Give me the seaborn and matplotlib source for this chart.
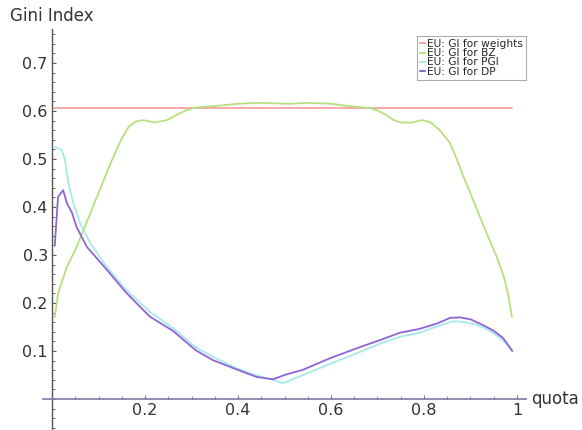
import matplotlib
matplotlib.use("Agg")
import matplotlib.pyplot as plt
from matplotlib.ticker import MultipleLocator, FixedLocator, FixedFormatter
import numpy as np
import pandas as pd
import seaborn as sns

# Gini index of the EU weights and of the power indices, as a function of the quota
weights_x = [0.005, 0.99]
weights_y = [0.607, 0.607]

bz_x = [0.006, 0.013, 0.032, 0.053, 0.082, 0.105, 0.12, 0.13, 0.15, 0.165, 0.18,
        0.196, 0.221, 0.247, 0.268, 0.29, 0.308, 0.333, 0.368, 0.40, 0.44, 0.48,
        0.51, 0.55, 0.60, 0.65, 0.684, 0.70, 0.72, 0.735, 0.75, 0.775, 0.795, 0.813,
        0.834, 0.856, 0.870, 0.885, 0.903, 0.920, 0.938, 0.956, 0.971, 0.981, 0.989]
bz_y = [0.171, 0.22, 0.275, 0.317, 0.386, 0.441, 0.477, 0.50, 0.543, 0.567, 0.578,
        0.581, 0.576, 0.581, 0.592, 0.602, 0.607, 0.609, 0.612, 0.615, 0.617, 0.616,
        0.615, 0.617, 0.615, 0.609, 0.606, 0.601, 0.591, 0.581, 0.576, 0.576, 0.581, 0.577,
        0.56, 0.533, 0.501, 0.463, 0.421, 0.380, 0.338, 0.297, 0.257, 0.218, 0.171]

pgi_x = [0.006, 0.021, 0.028, 0.035, 0.046, 0.06, 0.082, 0.118, 0.16, 0.21, 0.26,
         0.31, 0.35, 0.40, 0.44, 0.475, 0.497, 0.52, 0.54, 0.60, 0.66, 0.71, 0.75,
         0.79, 0.83, 0.862, 0.88, 0.91, 0.93, 0.95, 0.97, 0.99]
pgi_y = [0.525, 0.519, 0.498, 0.45, 0.408, 0.367, 0.325, 0.275, 0.227, 0.182, 0.148,
         0.107, 0.086, 0.063, 0.049, 0.04, 0.033, 0.042, 0.05, 0.074, 0.097, 0.117, 0.13,
         0.138, 0.152, 0.162, 0.161, 0.156, 0.148, 0.137, 0.122, 0.1]

dp_x = [0.006, 0.013, 0.024, 0.032, 0.043, 0.053, 0.075, 0.118, 0.16, 0.21, 0.26,
        0.31, 0.346, 0.404, 0.44, 0.475, 0.50, 0.54, 0.598, 0.662, 0.712, 0.748, 0.79,
        0.83, 0.856, 0.877, 0.90, 0.927, 0.95, 0.97, 0.99]
dp_y = [0.32, 0.421, 0.435, 0.408, 0.388, 0.358, 0.317, 0.269, 0.221, 0.172, 0.142,
        0.101, 0.081, 0.059, 0.046, 0.041, 0.05, 0.061, 0.085, 0.108, 0.125, 0.138, 0.146,
        0.158, 0.169, 0.17, 0.166, 0.154, 0.142, 0.127, 0.1]

series_names = ["EU: GI for weights", "EU: GI for BZ", "EU: GI for PGI", "EU: GI for DP"]
series_colors = ["#f6a3a3", "#b6e07e", "#a6e9e8", "#8e64d8"]

x_ticks = [0.2, 0.4, 0.6, 0.8, 1.0]
x_tick_labels = ["0.2", "0.4", "0.6", "0.8", "1"]
y_ticks = [0.1, 0.2, 0.3, 0.4, 0.5, 0.6, 0.7]
y_tick_labels = ["0.1", "0.2", "0.3", "0.4", "0.5", "0.6", "0.7"]

frames = []
for name, xs, ys in zip(series_names,
                        [weights_x, bz_x, pgi_x, dp_x],
                        [weights_y, bz_y, pgi_y, dp_y]):
    frames.append(pd.DataFrame({"quota": xs, "gini": ys, "series": name}))
data = pd.concat(frames, ignore_index=True)

sns.set_style("white")
plt.rcParams["font.family"] = ["DejaVu Sans"]

W, H = 582, 430
fig = plt.figure(figsize=(W / 100, H / 100), dpi=100)

xmin, xmax = -0.02, 1.02
ymin, ymax = -0.062, 0.77
px_x, px_y = 465.0, 480.0
x0_px, y0_px = 52.0, 399.0
left = (x0_px + xmin * px_x) / W
width = (xmax - xmin) * px_x / W
bottom = (H - (y0_px - ymin * px_y)) / H
height = (ymax - ymin) * px_y / H
ax = fig.add_axes([left, bottom, width, height])

sns.lineplot(data=data, x="quota", y="gini", hue="series",
             hue_order=series_names, palette=series_colors,
             estimator=None, sort=True, linewidth=1.3, ax=ax)
for line in ax.get_lines():
    line.set_solid_joinstyle("round")

ax.set_xlim(xmin, xmax)
ax.set_ylim(ymin, ymax)

axis_x_color = "#7b79a6"
axis_y_color = "#555555"
for side in ["top", "right"]:
    ax.spines[side].set_visible(False)
ax.spines["left"].set_position(("data", 0))
ax.spines["bottom"].set_position(("data", 0))
ax.spines["left"].set_color(axis_y_color)
ax.spines["bottom"].set_color(axis_x_color)
ax.spines["left"].set_linewidth(1.0)
ax.spines["bottom"].set_linewidth(1.2)

ax.xaxis.set_major_locator(FixedLocator(x_ticks))
ax.xaxis.set_major_formatter(FixedFormatter(x_tick_labels))
ax.yaxis.set_major_locator(FixedLocator(y_ticks))
ax.yaxis.set_major_formatter(FixedFormatter(y_tick_labels))
ax.xaxis.set_minor_locator(MultipleLocator(0.05))
ax.yaxis.set_minor_locator(MultipleLocator(0.02))
ax.tick_params(axis="both", which="major", direction="in", length=3,
               width=0.8, labelsize=11.5, labelcolor="#333333", pad=3)
ax.tick_params(axis="both", which="minor", direction="in", length=2, width=0.6)
ax.tick_params(axis="x", which="both", color=axis_x_color, bottom=True)
ax.tick_params(axis="y", which="both", color=axis_y_color, left=True)

ax.set_xlabel("")
ax.set_ylabel("")
fig.text(531 / W, 1 - 399 / H, "quota", fontsize=12, color="#333333",
         ha="left", va="center")
fig.text(10 / W, 1 - 16 / H, "Gini Index", fontsize=12, color="#333333",
         ha="left", va="center")

leg = ax.legend(loc="upper right", bbox_to_anchor=(526 / W, 1 - 36 / H),
                bbox_transform=fig.transFigure, fontsize=7.7,
                handlelength=0.45, handletextpad=0.2, labelspacing=-0.08,
                borderpad=0.3, borderaxespad=0, frameon=True, fancybox=False,
                shadow=False)
leg.get_frame().set_edgecolor("#9a9a9a")
leg.get_frame().set_linewidth(0.8)
for line in leg.get_lines():
    line.set_linewidth(1.5)

fig.savefig("out.png", dpi=100)
